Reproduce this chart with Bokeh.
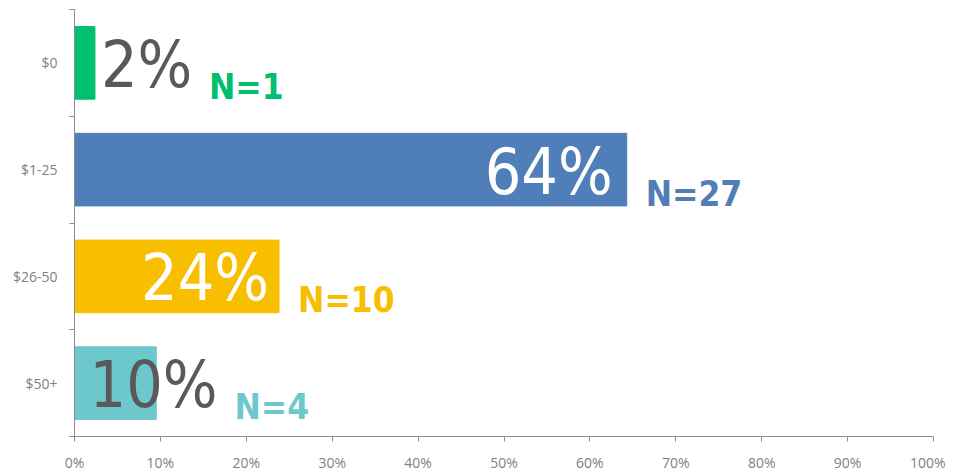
from bokeh.plotting import figure
from bokeh.models import ColumnDataSource, Range1d, FixedTicker, NumeralTickFormatter
from bokeh.core.properties import value
from bokeh.embed import file_html
from bokeh.resources import INLINE

# ---- data ----
categories = ["$0", "$1-25", "$26-50", "$50+"]
counts = [1, 27, 10, 4]
pct_labels = ["2%", "64%", "24%", "10%"]
n_labels = ["N=1", "N=27", "N=10", "N=4"]
colors = ["#00BF6F", "#507EB8", "#F8BE00", "#6CC8CC"]
x_ticks = [0, 0.1, 0.2, 0.3, 0.4, 0.5, 0.6, 0.7, 0.8, 0.9, 1.0]

total = sum(counts)
shares = [c / total for c in counts]
ypos = [i + 0.5 for i in range(len(categories))]

# label styling (per row)
pct_anchor = [shares[0], shares[1], shares[2], 0.0]
pct_align = ["left", "right", "right", "left"]
pct_xoff = [6, -14, -10, 15]
pct_color = ["#595959", "#FFFFFF", "#FFFFFF", "#595959"]
n_anchor = [shares[0], shares[1], shares[2], 0.0]
n_xoff = [114, 19, 19, 160]

src = ColumnDataSource(dict(
    y=ypos, share=shares, color=colors, pct=pct_labels, n=n_labels,
    pa=pct_anchor, palign=pct_align, pxo=pct_xoff, pcol=pct_color,
    na=n_anchor, nxo=n_xoff,
))

FONT = value("DejaVu Sans Condensed")

p = figure(width=945, height=474, output_backend="svg", toolbar_location=None,
           x_range=Range1d(0, 1), y_range=Range1d(4, 0),
           min_border_left=74, min_border_right=12, min_border_top=9, min_border_bottom=33)
p.outline_line_color = None
p.grid.grid_line_color = None
p.background_fill_color = "white"

p.hbar(y="y", left=0, right="share", height=0.68, color="color", source=src)

p.text(x="pa", y="y", text="pct", text_align="palign", x_offset="pxo", y_offset=2,
       text_baseline="alphabetic", text_color="pcol", text_font=FONT,
       text_font_size="64px", source=src)
p.text(x="na", y="y", text="n", text_align="left", x_offset="nxo", y_offset=24,
       text_baseline="alphabetic", text_color="color", text_font=FONT,
       text_font_style="bold", text_font_size="35px", source=src)

# x axis
p.xaxis.ticker = FixedTicker(ticks=x_ticks)
p.xaxis.formatter = NumeralTickFormatter(format="0%")
p.xaxis.axis_line_color = "#8C8C8C"
p.xaxis.major_tick_line_color = "#8C8C8C"
p.xaxis.major_tick_out = 5
p.xaxis.major_tick_in = 0
p.xaxis.minor_tick_line_color = None
p.xaxis.major_label_text_color = "#7F7F7F"
p.xaxis.major_label_text_font = "Open Sans"
p.xaxis.major_label_text_font_size = "14px"
p.xaxis.major_label_standoff = 11

# y axis: labels at category centers, tick marks at boundaries
p.yaxis.ticker = FixedTicker(ticks=ypos, minor_ticks=[0, 1, 2, 3, 4])
p.yaxis.major_label_overrides = {y: c for y, c in zip(ypos, categories)}
p.yaxis.axis_line_color = "#8C8C8C"
p.yaxis.major_tick_line_color = None
p.yaxis.minor_tick_line_color = "#8C8C8C"
p.yaxis.minor_tick_out = 5
p.yaxis.minor_tick_in = 0
p.yaxis.major_label_text_color = "#7F7F7F"
p.yaxis.major_label_text_font = "Open Sans"
p.yaxis.major_label_text_font_size = "14px"
p.yaxis.major_label_standoff = 11

open("out.html", "w").write(file_html(p, INLINE))
